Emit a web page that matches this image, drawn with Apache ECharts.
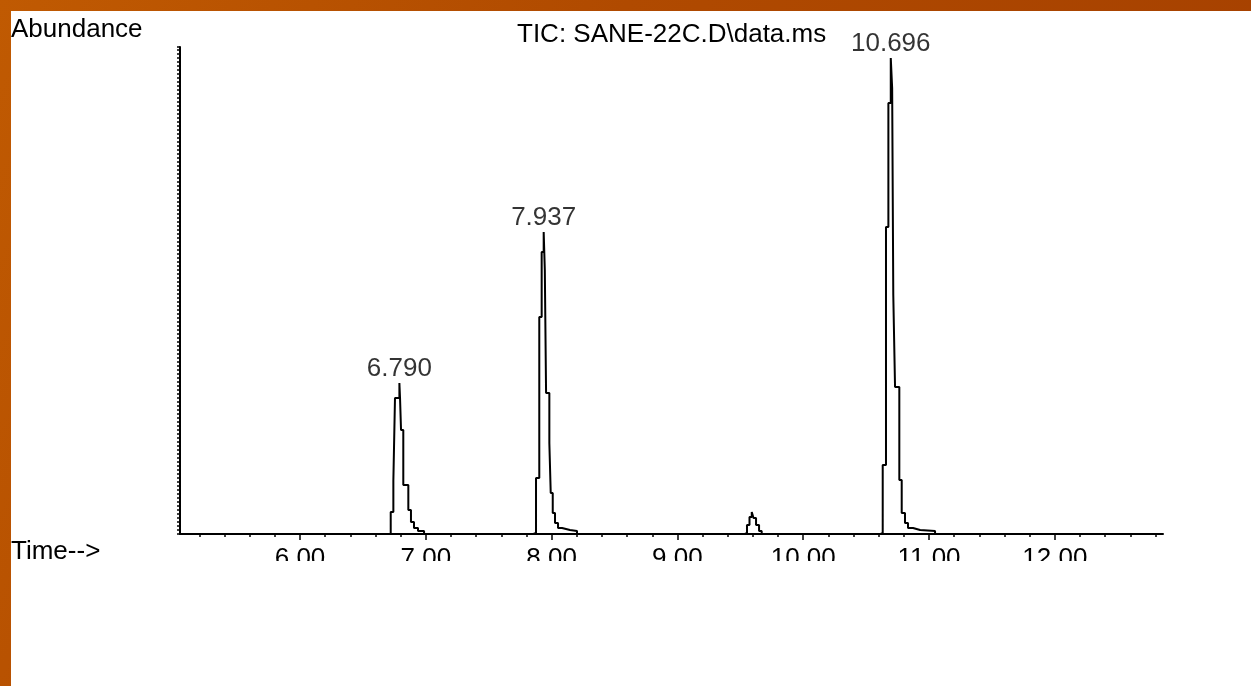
<!DOCTYPE html>
<html>
<head>
<meta charset="utf-8">
<script src="https://cdn.jsdelivr.net/npm/echarts@6/dist/echarts.min.js"></script>
<style>
  html, body { margin: 0; padding: 0; }
  body {
    width: 1251px; height: 686px; position: relative; overflow: hidden;
    background: linear-gradient(115deg, #c05a02 0%, #b04a00 40%, #a33e00 100%);
  }
  #paper { position: absolute; left: 11px; top: 11px; width: 1240px; height: 675px; background: #fff; }
  #chart { position: absolute; left: 0; top: 0; width: 1251px; height: 686px; }
</style>
</head>
<body>
<div id="paper"></div>
<div id="chart"></div>
<script>
// TIC trace, retention time (min) and abundance
const times = [
  5.046,
  6.721, 6.742, 6.755, 6.790, 6.795, 6.803, 6.821, 6.861, 6.882, 6.906, 6.938, 6.986,
  7.855, 7.876, 7.902, 7.921, 7.937, 7.946, 7.956, 7.982, 7.993, 8.009, 8.027, 8.051, 8.083, 8.146, 8.202,
  9.537, 9.553, 9.573, 9.591, 9.605, 9.625, 9.649, 9.670,
  10.616, 10.632, 10.658, 10.677, 10.696, 10.707, 10.716, 10.730, 10.764, 10.783, 10.809, 10.833, 10.873, 10.929, 11.048,
  12.86
]
const abundance = [
  0,
  220000, 530000, 1360000, 1510000, 1360000, 1040000, 490000, 240000, 120000, 60000, 30000, 0,
  10000, 560000, 2170000, 2820000, 3020000, 2640000, 1410000, 910000, 410000, 210000, 110000, 60000, 40000, 30000, 0,
  10000, 90000, 170000, 220000, 160000, 90000, 30000, 0,
  10000, 690000, 3070000, 4310000, 4760000, 4460000, 2390000, 1470000, 540000, 210000, 110000, 60000, 40000, 30000, 0,
  0
]

// labelled peaks
const peakTimes = [6.790, 7.937, 10.696]
const peakHeights = [1510000, 3020000, 4760000]

// axis ticks
const majorTicks = [6, 7, 8, 9, 10, 11, 12]
const minorTicks = []
for (let i = 26; i <= 64; i++) minorTicks.push(+(i * 0.2).toFixed(1))

const X_MIN = 5.046
const X_MAX = 12.86
const Y_MAX = 4870000

const FONT = '"Liberation Sans", Arial, sans-serif'
const INK = '#000000'

const chart = echarts.init(document.getElementById('chart'), null, { renderer: 'canvas' })

chart.setOption({
  animation: false,
  backgroundColor: 'transparent',
  grid: { left: 180, right: 88, top: 47, bottom: 152 },
  xAxis: [
    {
      type: 'value',
      min: X_MIN,
      max: X_MAX,
      axisLine: { show: true, lineStyle: { color: INK, width: 2 } },
      axisTick: { show: true, customValues: minorTicks, length: 3, lineStyle: { color: INK, width: 1.5 } },
      axisLabel: { show: false },
      splitLine: { show: false },
    },
    {
      type: 'value',
      min: X_MIN,
      max: X_MAX,
      position: 'bottom',
      axisLine: { show: false },
      axisTick: { show: true, customValues: majorTicks, length: 6, lineStyle: { color: INK, width: 1.5 } },
      axisLabel: {
        show: true,
        customValues: majorTicks,
        margin: 12,
        verticalAlign: 'top',
        color: INK,
        fontFamily: FONT,
        fontSize: 26,
        formatter: (v) => v.toFixed(2),
      },
      splitLine: { show: false },
    },
  ],
  yAxis: {
    type: 'value',
    min: 0,
    max: Y_MAX,
    interval: 40000,
    axisLine: { show: true, lineStyle: { color: INK, width: 2 } },
    axisTick: { show: true, length: 3, lineStyle: { color: INK, width: 1.5 } },
    axisLabel: { show: false },
    splitLine: { show: false },
  },
  series: [
    {
      name: 'TIC',
      type: 'line',
      step: 'end',
      showSymbol: false,
      silent: true,
      data: times.map((t, i) => [t, abundance[i]]),
      lineStyle: { color: INK, width: 2 },
    },
    {
      name: 'peaks',
      type: 'scatter',
      symbolSize: 0,
      silent: true,
      data: peakTimes.map((t, i) => [t, peakHeights[i]]),
      label: {
        show: true,
        position: 'top',
        distance: 1,
        color: INK,
        fontFamily: FONT,
        fontSize: 26,
        formatter: (p) => p.value[0].toFixed(3),
      },
    },
  ],
  graphic: [
    {
      type: 'text', left: 11, top: 17, z: 100,
      style: { text: 'Abundance', font: '26px ' + FONT, fill: INK },
    },
    {
      type: 'text', left: 517, top: 22, z: 100,
      style: { text: 'TIC: SANE-22C.D\\data.ms', font: '26px ' + FONT, fill: INK },
    },
    {
      type: 'text', left: 11, top: 539, z: 100,
      style: { text: 'Time-->', font: '26px ' + FONT, fill: INK },
    },
    // the original screenshot cuts the tick labels off at the bottom
    {
      type: 'rect', left: 190, top: 561, z: 90,
      shape: { width: 1000, height: 40 },
      style: { fill: '#ffffff' },
    },
  ],
})

window.addEventListener('resize', () => chart.resize())
</script>
</body>
</html>
